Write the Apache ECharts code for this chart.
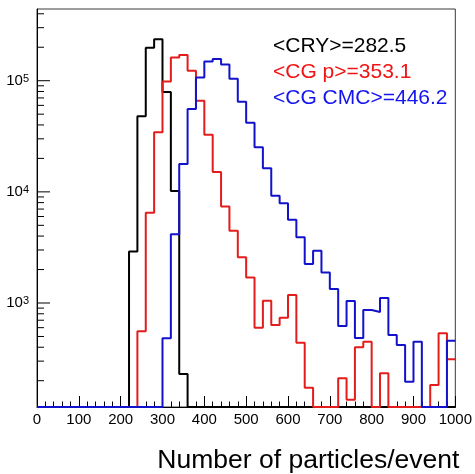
<!DOCTYPE html>
<html>
<head>
<meta charset="utf-8">
<script src="https://cdn.jsdelivr.net/npm/echarts@6/dist/echarts.min.js"></script>
<style>
  html, body { margin: 0; padding: 0; background: #ffffff; }
  #chart { width: 475px; height: 474px; }
</style>
</head>
<body>
<div id="chart"></div>
<script>
// Histogram binning: lower edge of each 20-wide bin, plus the upper limit
const binLow = [0, 20, 40, 60, 80, 100, 120, 140, 160, 180,
                200, 220, 240, 260, 280, 300, 320, 340, 360, 380,
                400, 420, 440, 460, 480, 500, 520, 540, 560, 580,
                600, 620, 640, 660, 680, 700, 720, 740, 760, 780,
                800, 820, 840, 860, 880, 900, 920, 940, 960, 980];
const xUpper = 1000;

// Entries per bin (events) for each generator
const cry = [0, 0, 0, 0, 0, 0, 0, 0, 0, 0,
             0, 2900, 48000, 198000, 236000, 79000, 10200, 230, 0, 0,
             0, 0, 0, 0, 0, 0, 0, 0, 0, 0,
             0, 0, 0, 0, 0, 0, 0, 0, 0, 0,
             0, 0, 0, 0, 0, 0, 0, 0, 0, 0];
const cgP = [0, 0, 0, 0, 0, 0, 0, 0, 0, 0,
             0, 0, 556, 6500, 34400, 98500, 162000, 170000, 123000, 66000,
             32700, 15100, 7400, 4470, 2580, 1700, 600, 1050, 634, 738,
             1180, 440, 173, 0, 0, 0, 210, 135, 400, 449,
             0, 233, 0, 0, 0, 0, 0, 183, 534, 312];
const cgCmc = [0, 0, 0, 0, 0, 0, 0, 0, 0, 0,
               0, 0, 0, 0, 0, 481, 4150, 17800, 55600, 107000,
               149000, 156700, 140000, 104000, 64700, 41900, 25200, 16300, 9240, 7890,
               5600, 3900, 2240, 2950, 1880, 1340, 621, 1042, 485, 865,
               830, 1110, 515, 419, 196, 449, 0, 0, 0, 458];

const seriesNames = ['CRY', 'CG p', 'CG CMC'];
const meanValues = [282.5, 353.1, 446.2];
const lineColors = ['#000000', '#e31c1c', '#1212cc'];
const textColors = ['#000000', '#f01414', '#1414f0'];

// Axis ranges and tick marks
const xRange = [0, 1000];
const yRange = [116, 441700];
const yMajorTicks = [1000, 10000, 100000];
const yMinorTicks = [200, 300, 400, 500, 600, 700, 800, 900,
                     2000, 3000, 4000, 5000, 6000, 7000, 8000, 9000,
                     20000, 30000, 40000, 50000, 60000, 70000, 80000, 90000,
                     200000, 300000, 400000];

const FONT = 'Liberation Sans, Arial, Helvetica, sans-serif';

// Outline of a histogram: one point per bin edge, empty bins sit on the axis floor
function histPoints(counts) {
  const pts = binLow.map((x, i) => [x, counts[i] > 0 ? counts[i] : yRange[0]]);
  const last = counts[counts.length - 1];
  pts.push([xUpper, last > 0 ? last : yRange[0]]);
  return pts;
}

const histSeries = [cry, cgP, cgCmc].map((counts, k) => ({
  name: seriesNames[k],
  type: 'line',
  step: 'end',
  symbol: 'none',
  clip: false,
  data: histPoints(counts),
  lineStyle: { color: lineColors[k], width: 2 },
  itemStyle: { color: lineColors[k] },
  emphasis: { disabled: true },
  z: 3 + k
}));

// Left-axis tick marks for the logarithmic scale
function tickSeries(values, len) {
  return {
    type: 'custom',
    coordinateSystem: 'cartesian2d',
    silent: true,
    clip: false,
    z: 10,
    data: values.map(v => [xRange[0], v]),
    renderItem: function (params, api) {
      const p = api.coord([api.value(0), api.value(1)]);
      return {
        type: 'line',
        shape: { x1: p[0], y1: p[1], x2: p[0] + len, y2: p[1] },
        style: { stroke: '#000000', lineWidth: 1 }
      };
    }
  };
}

const chart = echarts.init(document.getElementById('chart'), null, { renderer: 'canvas' });
chart.setOption({
  animation: false,
  backgroundColor: '#ffffff',
  textStyle: { fontFamily: FONT },
  grid: {
    left: 37, right: 17, top: 9, bottom: 67,
    show: true, borderColor: '#3a3a3a', borderWidth: 1, backgroundColor: 'transparent'
  },
  legend: {
    orient: 'vertical',
    left: 263,
    top: 31,
    icon: 'none',
    itemWidth: 0,
    itemHeight: 0,
    itemGap: 5,
    selectedMode: false,
    textStyle: { fontSize: 21, fontFamily: FONT, lineHeight: 21 },
    data: seriesNames.map((n, k) => ({ name: n, textStyle: { color: textColors[k] } })),
    formatter: function (name) {
      const k = seriesNames.indexOf(name);
      return '<' + name + '>=' + meanValues[k].toFixed(1);
    }
  },
  xAxis: {
    type: 'value',
    min: xRange[0],
    max: xRange[1],
    interval: 100,
    splitLine: { show: false },
    axisLine: { show: true, lineStyle: { color: '#000000', width: 1 } },
    axisTick: { show: true, inside: true, length: 11, lineStyle: { color: '#000000' } },
    minorTick: { show: true, splitNumber: 5, length: 5.5, lineStyle: { color: '#000000' } },
    axisLabel: {
      color: '#000000', fontSize: 15, margin: 5, fontFamily: FONT,
      formatter: function (v) { return String(v); }
    },
    name: 'Number of particles/event',
    nameLocation: 'end',
    nameGap: 4,
    nameTextStyle: {
      color: '#000000', fontSize: 26.5, fontFamily: FONT,
      align: 'right', verticalAlign: 'top', padding: [40, 0, 0, 0]
    }
  },
  yAxis: {
    type: 'log',
    logBase: 10,
    min: yRange[0],
    max: yRange[1],
    splitLine: { show: false },
    axisLine: { show: true, lineStyle: { color: '#000000', width: 1 } },
    axisTick: { show: false },
    axisLabel: {
      color: '#000000',
      margin: 8,
      fontSize: 15,
      showMinLabel: false,
      showMaxLabel: false,
      formatter: function (v) {
        const e = Math.round(Math.log10(v));
        if (Math.abs(v - Math.pow(10, e)) > 1e-6 * v) return '';
        return '{b|10}{s|' + e + '}';
      },
      rich: {
        b: { fontSize: 15, lineHeight: 15, verticalAlign: 'bottom', fontFamily: FONT, color: '#000000' },
        s: { fontSize: 11, lineHeight: 11, verticalAlign: 'top', padding: [0, 0, 6, 0], fontFamily: FONT, color: '#000000' }
      }
    }
  },
  series: histSeries.concat([tickSeries(yMajorTicks, 13), tickSeries(yMinorTicks, 7)])
});
</script>
</body>
</html>
